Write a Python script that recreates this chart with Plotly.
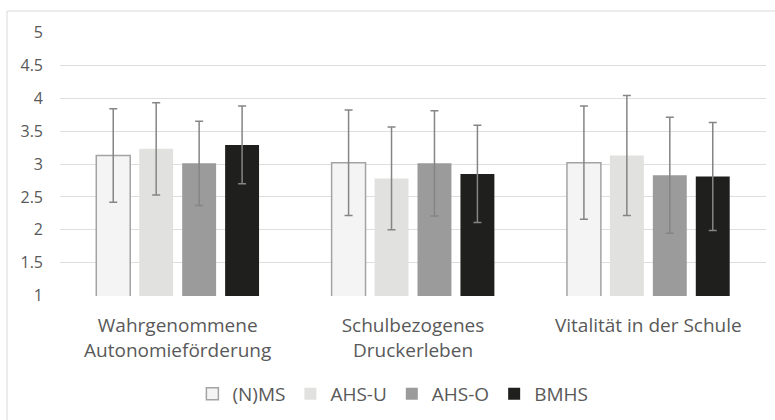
import plotly.graph_objects as go

categories = ["Wahrgenommene<br>Autonomieförderung", "Schulbezogenes<br>Druckerleben", "Vitalität in der Schule"]
series_names = ["(N)MS", "AHS-U", "AHS-O", "BMHS"]
nms_vals = [3.13, 3.02, 3.02]
nms_err = [0.71, 0.80, 0.86]
ahsu_vals = [3.23, 2.78, 3.13]
ahsu_err = [0.70, 0.78, 0.91]
ahso_vals = [3.01, 3.01, 2.83]
ahso_err = [0.64, 0.80, 0.88]
bmhs_vals = [3.29, 2.85, 2.81]
bmhs_err = [0.59, 0.74, 0.82]
y_ticks = [1, 1.5, 2, 2.5, 3, 3.5, 4, 4.5, 5]

fills = ["#f4f4f4", "#e1e1df", "#9b9b9b", "#1f1f1d"]
borders = ["#a3a3a3", "#e1e1df", "#9b9b9b", "#1f1f1d"]
border_w = [1.5, 0, 0, 0]
vals = [nms_vals, ahsu_vals, ahso_vals, bmhs_vals]
errs = [nms_err, ahsu_err, ahso_err, bmhs_err]

fig = go.Figure()
for name, v, e, f, b, bw in zip(series_names, vals, errs, fills, borders, border_w):
    fig.add_trace(go.Bar(
        x=categories, y=v, name=name,
        marker=dict(color=f, line=dict(color=b, width=bw)),
        error_y=dict(type="data", array=e, visible=True, color="#858585", thickness=1.5, width=4),
    ))

fig.update_layout(
    width=775, height=420,
    paper_bgcolor="white", plot_bgcolor="white",
    margin=dict(l=60, r=9, t=32, b=124, autoexpand=False),
    barmode="group", bargap=0.27, bargroupgap=0.21,
    font=dict(family="Open Sans", color="#595959"),
    showlegend=True,
    legend=dict(orientation="h", x=0.4715, xanchor="center", y=-0.371, yanchor="middle",
                font=dict(size=19, color="#595959"), itemwidth=30, traceorder="normal"),
    xaxis=dict(showgrid=False, showline=False, ticks="", tickfont=dict(size=19, color="#595959"),
               ticklabelstandoff=16),
    yaxis=dict(range=[0.996, 5.004], tickvals=y_ticks, ticktext=[f"{t:g}" for t in y_ticks],
               showgrid=True, gridcolor="#dedede", gridwidth=1, zeroline=False, showline=False,
               tickfont=dict(size=16, color="#595959"), ticks="", ticklabelstandoff=16),
    shapes=[dict(type="rect", xref="paper", yref="paper",
                 x0=(7 - 60) / 706, x1=1.2, y0=-0.5, y1=(296 - 11) / 264,
                 line=dict(color="#d9d9d9", width=1), fillcolor="rgba(0,0,0,0)", layer="below")],
)
fig.write_html("out.html", config={"displayModeBar": False},
               post_script="document.body.style.margin='0';document.body.style.padding='0';")
